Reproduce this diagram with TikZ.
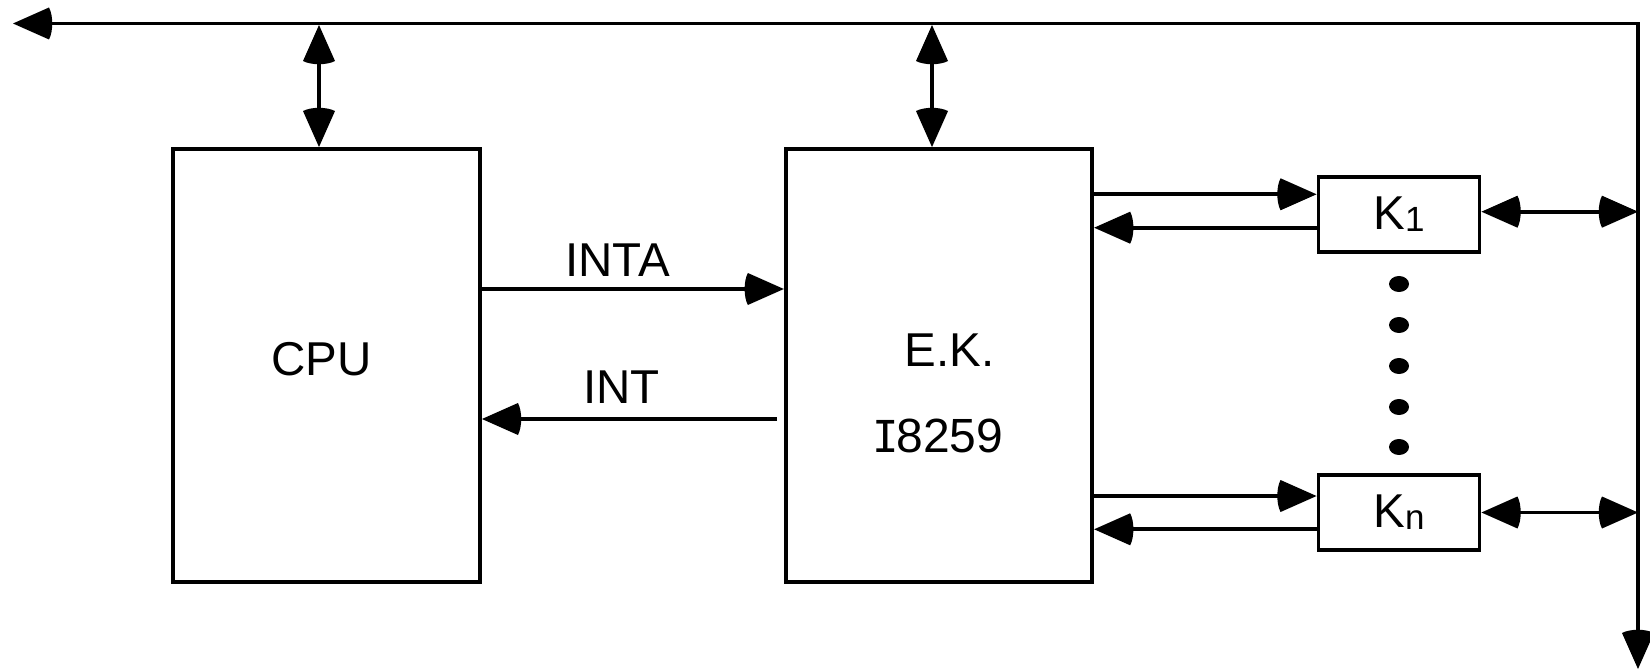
\documentclass[tikz,border=0pt]{standalone}
\usepackage{fontspec}
\setmainfont{Liberation Sans}
\newfontfamily\dvm{DejaVu Sans Mono}
\usetikzlibrary{arrows.meta}
\pgfdeclarearrow{
  name = Vsx,
  defaults = { length = 36pt, width = 32pt },
  setup code = {
    \pgfarrowssettipend{0pt}
    \pgfarrowssetlineend{-0.9\pgfarrowlength}
    \pgfarrowssetbackend{-1.1\pgfarrowlength}
    \pgfarrowshullpoint{0pt}{0pt}
    \pgfarrowsupperhullpoint{-1.1\pgfarrowlength}{.5\pgfarrowwidth}
    \pgfarrowssavethe\pgfarrowlength
    \pgfarrowssavethe\pgfarrowwidth
  },
  drawing code = {
    \pgfpathmoveto{\pgfpointorigin}
    \pgfpathlineto{\pgfpoint{-\pgfarrowlength}{.5\pgfarrowwidth}}
    \pgfpathcurveto{\pgfpoint{-1.12\pgfarrowlength}{.25\pgfarrowwidth}}{\pgfpoint{-1.12\pgfarrowlength}{-.25\pgfarrowwidth}}{\pgfpoint{-\pgfarrowlength}{-.5\pgfarrowwidth}}
    \pgfpathclose
    \pgfusepathqfill
  },
  parameters = { \the\pgfarrowlength,\the\pgfarrowwidth },
}
\newcommand{\subtxt}[1]{\raisebox{-1.7pt}{\fontsize{35}{40}\selectfont #1}}
\tikzset{
  box/.style={draw, line width=3.9pt, inner sep=0pt},
  conn/.style={line width=3.9pt},
  one/.style={conn, -{Vsx}},
  two/.style={conn, {Vsx}-{Vsx}},
  txt/.style={inner sep=0pt, font=\fontsize{47.5}{56}\selectfont},
}
\begin{document}
\begin{tikzpicture}[x=1pt, y=-1pt]
\useasboundingbox (0,0) rectangle (1650,671);
% boxes
\node[box, minimum width=307pt, minimum height=433pt] (cpu) at (326.5,365.5) {};
\node[box, minimum width=306.4pt, minimum height=433pt] (ek) at (939,365.5) {};
\node[box, txt, minimum width=161pt, minimum height=74.5pt] (k1) at (1399,214.5) {K\subtxt{1}};
\node[box, txt, minimum width=161pt, minimum height=74.5pt] (kn) at (1399,512.5) {K\subtxt{n}};
% texts
\node[txt] (cputxt) at (321.5,359) {CPU};
\node[txt] (ektxt) at (949.5,350.5) {E.K.};
\node[txt, font=\fontsize{48}{56}\selectfont] (ictxt) at (938,435.5) {{\dvm\fontsize{44}{56}\selectfont I}\kern-3pt 8259};
\node[txt] (intatxt) at (617.5,260) {INTA};
\node[txt] (inttxt) at (621.5,387.5) {INT};
% bus
\coordinate (busL) at (13,23.5);
\coordinate (corner) at (1638,23.5);
\coordinate (busB) at (1638,669);
\draw[two] (busL) -- (corner) -- (busB);
\coordinate (cpuBus) at (319,25);
\coordinate (ekBus) at (932,25);
\draw[two] (cpuBus) -- (cpuBus |- cpu.north);
\draw[two] (ekBus) -- (ekBus |- ek.north);
% CPU <-> E.K.
\coordinate (intaS) at (0,289);
\draw[one] (intaS -| cpu.east) -- (intaS -| ek.west);
\coordinate (intS) at (777,419);
\draw[one] (intS) -- (intS -| cpu.east);
% E.K. <-> K
\draw[one] ([yshift=20.2pt]k1.west -| ek.east) -- ([yshift=20.2pt]k1.west);
\draw[one] ([yshift=-13.2pt]k1.west) -- ([yshift=-13.2pt]k1.west -| ek.east);
\draw[two] ([yshift=2.8pt]k1.east) -- ([yshift=2.8pt]k1.east -| corner);
\draw[one] ([yshift=16.5pt]kn.west -| ek.east) -- ([yshift=16.5pt]kn.west);
\draw[one] ([yshift=-16.8pt]kn.west) -- ([yshift=-16.8pt]kn.west -| ek.east);
\draw[two] ([yshift=0pt]kn.east) -- ([yshift=0pt]kn.east -| corner);
% dots
\foreach \yy in {284,325,366,407,447}
  \fill (1399,\yy) ellipse (10 and 8);
\end{tikzpicture}
\end{document}
